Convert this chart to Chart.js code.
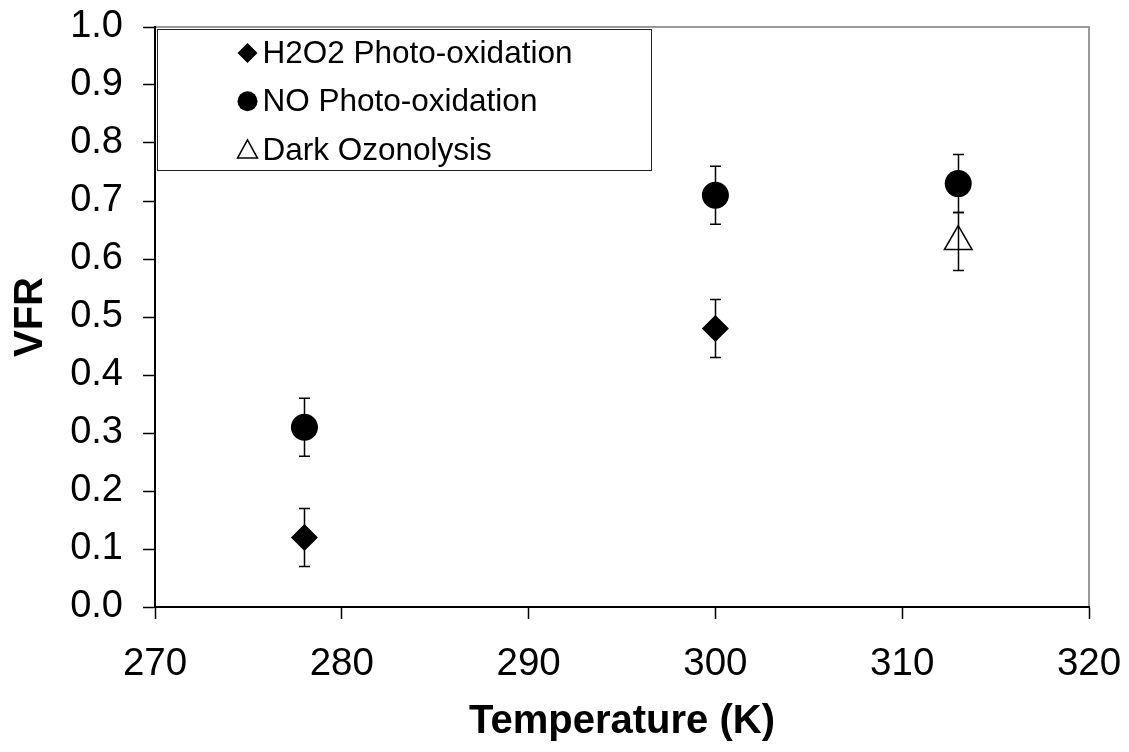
<!DOCTYPE html>
<html>
<head>
<meta charset="utf-8">
<script src="https://cdn.jsdelivr.net/npm/chart.js@4/dist/chart.umd.min.js"></script>
<style>
  html, body { margin: 0; padding: 0; background: #fff; }
  canvas { display: block; }
</style>
</head>
<body>
<canvas id="c" width="1129" height="752"></canvas>
<script>
// ---- Data ----
const seriesNames = ['H2O2 Photo-oxidation', 'NO Photo-oxidation', 'Dark Ozonolysis'];
const h2o2Temp = [278, 300];
const h2o2VFR  = [0.12, 0.48];
const h2o2Err  = [0.05, 0.05];
const noTemp   = [278, 300, 313];
const noVFR    = [0.31, 0.71, 0.73];
const noErr    = [0.05, 0.05, 0.05];
const darkTemp = [313];
const darkVFR  = [0.63];
const darkErr  = [0.05];
const xTicks = [270, 280, 290, 300, 310, 320];
const yTicks = [0, 0.1, 0.2, 0.3, 0.4, 0.5, 0.6, 0.7, 0.8, 0.9, 1.0];

const FONT = '"Liberation Sans", Arial, sans-serif';
const toPts = (xs, ys) => xs.map((x, i) => ({ x: x, y: ys[i] }));

// plot-area border (grey frame)
const frame = {
  id: 'frame',
  beforeDraw(chart) {
    const { ctx, chartArea: a } = chart;
    ctx.save();
    ctx.strokeStyle = '#9a9a9a';
    ctx.lineWidth = 2;
    ctx.strokeRect(a.left, a.top, a.right - a.left, a.bottom - a.top);
    ctx.restore();
  }
};

// error bars
const errorBars = {
  id: 'errorBars',
  beforeDatasetsDraw(chart) {
    const { ctx, scales: { x, y } } = chart;
    ctx.save();
    ctx.strokeStyle = '#000';
    ctx.lineWidth = 1.5;
    chart.data.datasets.forEach(ds => {
      ds.data.forEach((p, i) => {
        const e = ds.errors[i];
        const px = Math.round(x.getPixelForValue(p.x)) + 0.5;
        const t = y.getPixelForValue(p.y + e);
        const b = y.getPixelForValue(p.y - e);
        ctx.beginPath();
        ctx.moveTo(px, t); ctx.lineTo(px, b);
        ctx.moveTo(px - 5.5, t); ctx.lineTo(px + 5.5, t);
        ctx.moveTo(px - 5.5, b); ctx.lineTo(px + 5.5, b);
        ctx.stroke();
      });
    });
    ctx.restore();
  }
};

function marker(ctx, style, x, y, r) {
  ctx.beginPath();
  if (style === 'rectRot') {
    ctx.moveTo(x - r, y); ctx.lineTo(x, y - r); ctx.lineTo(x + r, y); ctx.lineTo(x, y + r); ctx.closePath();
    ctx.fillStyle = '#000'; ctx.fill();
  } else if (style === 'circle') {
    ctx.arc(x, y, r, 0, Math.PI * 2);
    ctx.fillStyle = '#000'; ctx.fill();
  } else {
    const h = r * 1.5, w = r * Math.sqrt(3);
    ctx.moveTo(x, y - h / 2 - 1); ctx.lineTo(x + w / 2, y + h / 2); ctx.lineTo(x - w / 2, y + h / 2); ctx.closePath();
    ctx.strokeStyle = '#000'; ctx.lineWidth = 1.5; ctx.stroke();
  }
}

// legend box inside plot area
const boxLegend = {
  id: 'boxLegend',
  afterDraw(chart) {
    const { ctx, chartArea: a } = chart;
    const lx = a.left + 1.5, ly = a.top + 1.5, lw = 494, lh = 141;
    ctx.save();
    ctx.fillStyle = '#fff';
    ctx.fillRect(lx, ly, lw, lh);
    ctx.strokeStyle = '#222';
    ctx.lineWidth = 1;
    ctx.strokeRect(Math.round(lx) + 0.5, Math.round(ly) + 0.5, lw, lh);
    const styles = ['rectRot', 'circle', 'triangle'];
    const radii = [10, 10, 11.5];
    ctx.font = '31.5px ' + FONT;
    ctx.textBaseline = 'middle';
    chart.data.datasets.forEach((ds, i) => {
      const cy = ly + 24.5 + i * 48.2;
      marker(ctx, styles[i], lx + 91, cy, radii[i]);
      ctx.fillStyle = '#000';
      ctx.fillText(ds.label, lx + 106, cy + 1.5);
    });
    ctx.restore();
  }
};

new Chart(document.getElementById('c'), {
  type: 'scatter',
  data: {
    datasets: [
      { label: seriesNames[0], data: toPts(h2o2Temp, h2o2VFR), errors: h2o2Err,
        pointStyle: 'rectRot', pointRadius: 13.5, backgroundColor: '#000', borderColor: '#000', borderWidth: 0 },
      { label: seriesNames[1], data: toPts(noTemp, noVFR), errors: noErr,
        pointStyle: 'circle', pointRadius: 13.5, backgroundColor: '#000', borderColor: '#000', borderWidth: 0 },
      { label: seriesNames[2], data: toPts(darkTemp, darkVFR), errors: darkErr,
        pointStyle: 'triangle', pointRadius: 16, backgroundColor: 'rgba(0,0,0,0)', borderColor: '#000', borderWidth: 1.5 }
    ]
  },
  options: {
    responsive: false,
    animation: false,
    devicePixelRatio: 1,
    layout: { padding: { top: 27, right: 40, left: 0, bottom: 0 } },
    plugins: { legend: { display: false }, tooltip: { enabled: false } },
    elements: { point: { hoverRadius: 13.5 } },
    scales: {
      x: {
        type: 'linear', min: 270, max: 320,
        afterBuildTicks: s => { s.ticks = xTicks.map(v => ({ value: v })); },
        afterFit: s => { s.height = 145; s.paddingLeft = 0; s.paddingRight = 0; },
        ticks: { color: '#000', font: { family: FONT, size: 38.5 }, padding: 22, maxRotation: 0 },
        grid: { drawOnChartArea: false, tickLength: 12, tickColor: '#000', tickWidth: 1.5 },
        border: { color: '#000', width: 2 },
        title: { display: true, text: 'Temperature (K)', color: '#000',
                 font: { family: FONT, size: 40, weight: 'bold' }, padding: { top: 0, bottom: 6 } }
      },
      y: {
        type: 'linear', min: 0, max: 1,
        afterBuildTicks: s => { s.ticks = yTicks.map(v => ({ value: v })); },
        afterFit: s => { s.width = 155; s.paddingTop = 0; s.paddingBottom = 0; },
        ticks: { color: '#000', font: { family: FONT, size: 38 }, padding: 20,
                 callback: v => Number(v).toFixed(1) },
        grid: { drawOnChartArea: false, tickLength: 12, tickColor: '#000', tickWidth: 1.5 },
        border: { color: '#000', width: 2 },
        title: { display: true, text: 'VFR', color: '#000',
                 font: { family: FONT, size: 40, weight: 'bold' }, padding: { top: 7, bottom: 0 } }
      }
    }
  },
  plugins: [frame, errorBars, boxLegend]
});
</script>
</body>
</html>
